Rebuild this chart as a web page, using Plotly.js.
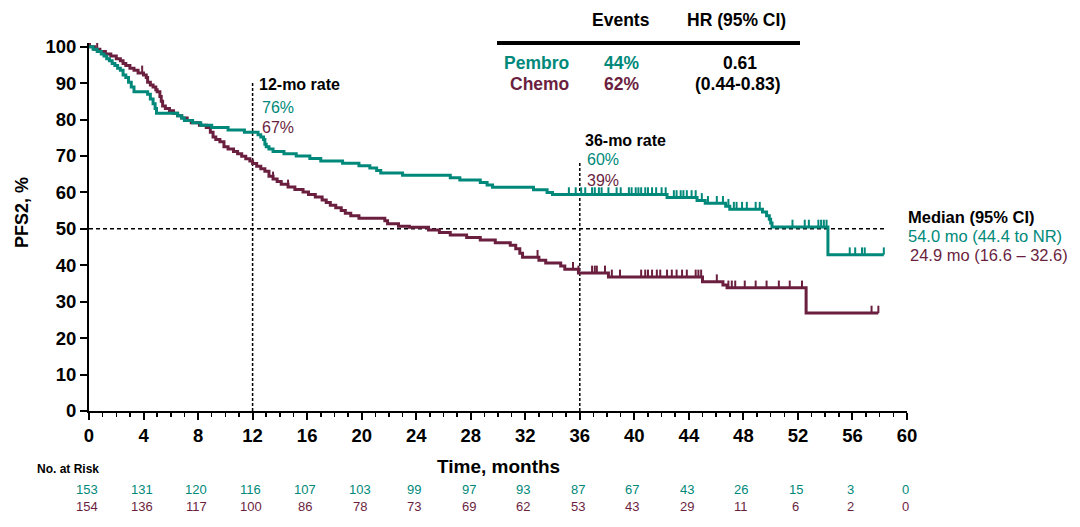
<!DOCTYPE html>
<html><head><meta charset="utf-8">
<script src="https://cdn.plot.ly/plotly-3.0.1.min.js"></script>
<style>html,body{margin:0;padding:0;background:#fff}#chart{width:1080px;height:527px}</style>
</head><body><div id="chart"></div>
<script>
// ---------- data ----------
const pembroTimes = [0,0.3,0.6,0.9,1.1,1.3,1.5,1.7,1.9,2.1,2.3,2.5,2.7,2.9,3.1,3.3,4.3,4.5,4.7,4.85,4.95,6.5,6.8,7.0,7.6,8.2,9.0,10.2,11.4,12.4,12.6,12.8,12.9,13.0,13.2,13.5,14.3,15.2,16.2,17.0,18.6,19.8,20.6,21.1,21.4,23.0,26.5,27.2,28.7,29.2,29.6,32.6,33.6,34.0,42.4,44.6,45.2,46.7,47.0,49.4,49.7,49.9,50.0,50.1,54.2];
const pembroSurv  = [100,99.3,98.7,98.0,97.4,96.7,96.1,95.4,94.8,94.1,93.5,92.2,91.5,90.2,88.9,87.6,86.9,85.6,84.3,83.0,81.7,81.0,80.4,79.7,79.1,78.4,77.8,77.1,76.5,75.8,75.2,74.5,73.2,72.5,71.9,71.2,70.6,70.0,69.3,68.6,68.0,67.3,66.7,66.0,65.3,64.7,64.0,63.4,62.7,62.0,61.4,60.7,60.0,59.4,58.6,57.8,57.0,56.2,55.4,54.6,53.6,52.6,51.6,50.5,42.9];
const pembroEnd = 58.3;
const pembroCensor = [35.2,35.7,36.1,36.4,36.9,37.1,37.4,37.6,38.1,38.7,39.0,39.6,39.8,40.1,40.3,40.5,40.8,41.0,41.3,41.6,42.0,42.3,42.9,43.1,43.4,43.6,43.85,44.2,44.5,44.95,45.4,46.05,46.5,46.9,47.3,47.5,47.9,48.25,48.9,49.2,51.6,52.5,52.8,53.5,53.7,53.9,54.1,55.8,56.2,56.7,56.9,58.3];

const chemoTimes = [0,0.4,0.8,1.2,1.6,2.0,2.3,2.5,2.7,3.0,3.3,3.6,4.0,4.2,4.3,4.5,4.7,4.9,5.0,5.2,5.3,5.4,5.6,5.9,6.2,6.5,6.8,7.2,7.5,8.1,8.6,8.9,9.1,9.3,9.6,9.9,10.2,10.6,10.9,11.2,11.5,11.8,12.0,12.3,12.6,12.9,13.2,13.5,13.8,14.1,14.6,15.1,15.7,16.1,16.6,17.1,17.4,17.7,18.1,18.5,18.8,19.2,19.8,21.7,21.9,22.7,23.5,24.9,25.7,26.5,27.7,28.7,29.8,30.9,31.3,31.6,31.8,33.0,33.5,34.6,34.9,35.9,38.1,45.0,46.5,46.8,52.6];
const chemoSurv  = [100,99.3,98.7,98.0,97.4,96.7,96.1,95.4,94.8,94.1,93.5,92.8,92.2,91.5,90.2,89.5,88.9,88.2,87.6,86.3,85.0,83.7,83.0,82.4,81.7,81.0,80.4,79.7,79.1,78.4,77.8,76.5,75.2,74.5,73.9,72.5,71.9,71.2,70.6,69.9,69.2,68.6,67.9,67.2,66.5,65.8,64.4,63.7,63.0,62.2,61.5,60.8,60.1,59.4,58.7,57.9,57.2,56.5,55.8,55.0,54.3,53.6,52.9,52.2,51.4,50.7,50.4,49.7,49.0,48.3,47.6,46.9,46.2,45.5,44.5,43.3,42.2,41.4,40.6,39.8,38.9,37.9,36.8,35.5,34.6,33.8,26.9];
const chemoEnd = 57.9;
const chemoCensor = [0.07,0.6,3.9,13.5,14.6,32.9,35.5,35.9,36.9,37.1,37.25,37.85,38.35,38.95,40.5,40.8,41.0,41.3,41.65,41.9,42.4,42.75,43.1,43.5,43.85,44.5,44.7,44.9,46.05,46.9,47.15,47.4,48.1,48.9,49.7,50.6,51.4,52.3,57.4,57.9];

const riskTimes  = [0,4,8,12,16,20,24,28,32,36,40,44,48,52,56,60];
const pembroRisk = [153,131,120,116,107,103,99,97,93,87,67,43,26,15,3,0];
const chemoRisk  = [154,136,117,100,86,78,73,69,62,53,43,29,11,6,2,0];

const xTickVals = [0,4,8,12,16,20,24,28,32,36,40,44,48,52,56,60];
const yTickVals = [0,10,20,30,40,50,60,70,80,90,100];

const medianLine = 50;
const rate12 = 12, rate36 = 36;

// ---------- styles ----------
const TEAL = '#00897a';
const MAROON = '#6b1f3f';
const FONT = 'Liberation Sans, Arial, Helvetica, sans-serif';

// pixel -> paper helpers (plot area 89..907 x, 43..411 y)
const L = 89, R = 907, T = 43, B = 411;
const px = X => (X - L) / (R - L);
const py = Y => (B - Y) / (B - T);

function stepTrace(times, surv, end, color) {
  return {
    x: times.concat([end]),
    y: surv.concat([surv[surv.length - 1]]),
    mode: 'lines', line: {shape: 'hv', color: color, width: 3},
    hoverinfo: 'skip', type: 'scatter'
  };
}
function survAt(times, surv, t) {
  let s = surv[0];
  for (let i = 0; i < times.length; i++) { if (times[i] <= t) s = surv[i]; }
  return s;
}
function censorTrace(times, surv, cens, color) {
  const x = [], y = [];
  cens.forEach(t => { const s = survAt(times, surv, t); x.push(t, t, null); y.push(s, s + 2, null); });
  return {x: x, y: y, mode: 'lines', line: {color: color, width: 2}, hoverinfo: 'skip', type: 'scatter'};
}

const traces = [
  stepTrace(chemoTimes, chemoSurv, chemoEnd, MAROON),
  censorTrace(chemoTimes, chemoSurv, chemoCensor, MAROON),
  stepTrace(pembroTimes, pembroSurv, pembroEnd, TEAL),
  censorTrace(pembroTimes, pembroSurv, pembroCensor, TEAL)
];

function ann(text, X, Y, opts) {
  return Object.assign({
    text: text, xref: 'paper', yref: 'paper', x: px(X), y: py(Y),
    xanchor: 'left', yanchor: 'middle', showarrow: false,
    font: {family: FONT, size: 16, color: '#000'}
  }, opts || {});
}

const TB = 17.5;
const annotations = [
  ann('<b>PFS2, %</b>', 22, 213, {xanchor: 'center', textangle: -90, font: {family: FONT, size: 18, color: '#000'}}),
  ann('<b>Time, months</b>', 498, 466, {xanchor: 'center', font: {family: FONT, size: 19, color: '#000'}}),
  ann('<b>No. at Risk</b>', 35, 469, {font: {family: FONT, size: 12, color: '#000'}}),

  ann('<b>12-mo rate</b>', 257, 85),
  ann('76%', 260, 107, {font: {family: FONT, size: 16, color: TEAL}}),
  ann('67%', 260, 127, {font: {family: FONT, size: 16, color: MAROON}}),
  ann('<b>36-mo rate</b>', 583, 140),
  ann('60%', 585, 159, {font: {family: FONT, size: 16, color: TEAL}}),
  ann('39%', 585, 180, {font: {family: FONT, size: 16, color: MAROON}}),

  ann('<b>Median (95% CI)</b>', 906, 217, {font: {family: FONT, size: 16.5, color: '#000'}}),
  ann('54.0 mo (44.4 to NR)', 906, 236, {font: {family: FONT, size: 16.5, color: TEAL}}),
  ann('24.9 mo (16.6 \u2013 32.6)', 908, 255, {font: {family: FONT, size: 16.5, color: MAROON}}),

  ann('<b>Events</b>', 621, 20, {xanchor: 'center', font: {family: FONT, size: TB, color: '#000'}}),
  ann('<b>HR (95% CI)</b>', 736, 20, {xanchor: 'center', font: {family: FONT, size: TB, color: '#000'}}),
  ann('<b>Pembro</b>', 571, 63, {xanchor: 'right', font: {family: FONT, size: TB, color: TEAL}}),
  ann('<b>44%</b>', 621, 63, {xanchor: 'center', font: {family: FONT, size: TB, color: TEAL}}),
  ann('<b>0.61</b>', 740, 63, {xanchor: 'center', font: {family: FONT, size: TB, color: '#000'}}),
  ann('<b>Chemo</b>', 571, 84, {xanchor: 'right', font: {family: FONT, size: TB, color: MAROON}}),
  ann('<b>62%</b>', 621, 84, {xanchor: 'center', font: {family: FONT, size: TB, color: MAROON}}),
  ann('<b>(0.44-0.83)</b>', 738, 84, {xanchor: 'center', font: {family: FONT, size: TB, color: '#000'}})
];

riskTimes.forEach((t, i) => {
  annotations.push({text: String(pembroRisk[i]), xref: 'x', yref: 'paper', x: t, y: py(489), xshift: -2,
    xanchor: 'center', yanchor: 'middle', showarrow: false, font: {family: FONT, size: 13, color: TEAL}});
  annotations.push({text: String(chemoRisk[i]), xref: 'x', yref: 'paper', x: t, y: py(506), xshift: -2,
    xanchor: 'center', yanchor: 'middle', showarrow: false, font: {family: FONT, size: 13, color: MAROON}});
});

const shapes = [
  {type: 'line', xref: 'x', yref: 'y', x0: rate12, x1: rate12, y0: 0, y1: 90.4, layer: 'below',
   line: {color: '#000', width: 1.5, dash: '3px,2px'}},
  {type: 'line', xref: 'x', yref: 'y', x0: rate36, x1: rate36, y0: 0, y1: 68.1, layer: 'below',
   line: {color: '#000', width: 1.5, dash: '3px,2px'}},
  {type: 'line', xref: 'x', yref: 'y', x0: 0, x1: 58.4, y0: medianLine, y1: medianLine, layer: 'below',
   line: {color: '#000', width: 1.5, dash: '4px,3px'}},
  {type: 'line', xref: 'paper', yref: 'paper', x0: px(497), x1: px(800), y0: py(43), y1: py(43),
   line: {color: '#000', width: 4}}
];

const layout = {
  width: 1080, height: 527,
  margin: {l: L, r: 1080 - R, t: T, b: 527 - B, pad: 0},
  paper_bgcolor: '#fff', plot_bgcolor: '#fff',
  showlegend: false,
  font: {family: FONT, color: '#000'},
  xaxis: {
    range: [0, 60], tickmode: 'array', tickvals: xTickVals, ticktext: xTickVals.map(String),
    ticks: 'outside', ticklen: 7, tickwidth: 2, tickcolor: '#000',
    showline: true, linewidth: 2, linecolor: '#000', showgrid: false, zeroline: false,
    tickfont: {family: FONT, size: 18.5, color: '#000', weight: 'bold'},
    minor: {dtick: 1, tick0: 0, ticks: 'outside', ticklen: 4, tickwidth: 1.5, tickcolor: '#000', showgrid: false},
    fixedrange: true
  },
  yaxis: {
    range: [0, 101], tickmode: 'array', tickvals: yTickVals, ticktext: yTickVals.map(String),
    ticks: 'outside', ticklen: 7, tickwidth: 2, tickcolor: '#000',
    showline: true, linewidth: 2, linecolor: '#000', showgrid: false, zeroline: false,
    tickfont: {family: FONT, size: 18.5, color: '#000', weight: 'bold'},
    fixedrange: true
  },
  annotations: annotations,
  shapes: shapes
};

Plotly.newPlot('chart', traces, layout, {displayModeBar: false, staticPlot: true});
</script>
</body></html>
